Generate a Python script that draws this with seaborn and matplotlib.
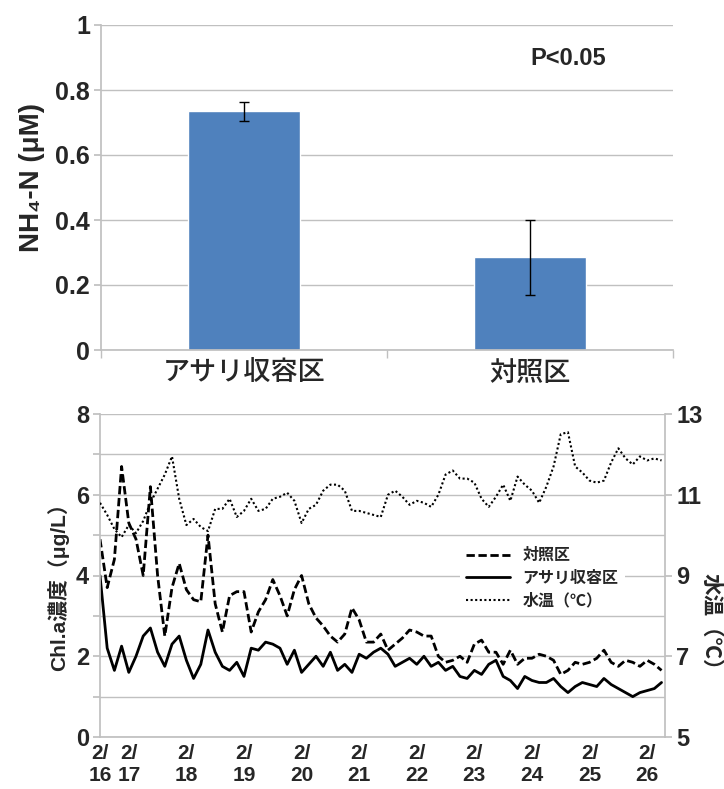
import numpy as np
import pandas as pd
import matplotlib
matplotlib.use("Agg")
import matplotlib.pyplot as plt
import seaborn as sns

# ---------- DATA ----------
# top panel: NH4-N (mean +/- error) per plot
categories = ["アサリ収容区", "対照区"]
nh4_mean = [0.735, 0.285]
nh4_err = [0.029, 0.116]
p_text = "P<0.05"

# bottom panel: 3-hourly readings starting 2/16 12:00
start_day = 16.5
step_day = 0.125
control = [4.9, 3.7, 4.4, 6.7, 5.3, 4.9, 4.0, 6.2, 4.0, 2.5,
           3.7, 4.3, 3.65, 3.4, 3.35, 5.0, 3.3, 2.6, 3.5, 3.6,
           3.6, 2.6, 3.1, 3.4, 3.9, 3.5, 3.0, 3.65, 4.0, 3.3,
           2.95, 2.75, 2.5, 2.35, 2.55, 3.2, 2.9, 2.35, 2.35, 2.55,
           2.15, 2.3, 2.45, 2.65, 2.6, 2.5, 2.5, 2.0, 1.85, 1.9,
           2.0, 1.85, 2.3, 2.4, 2.1, 2.1, 1.8, 2.15, 1.8, 1.95,
           1.95, 2.05, 2.0, 1.9, 1.55, 1.65, 1.85, 1.8, 1.85, 1.95,
           2.15, 1.85, 1.75, 1.9, 1.85, 1.75, 1.9, 1.8, 1.65]
clam = [4.0, 2.2, 1.65, 2.25, 1.6, 2.0, 2.5, 2.7, 2.1, 1.75,
        2.3, 2.5, 1.9, 1.45, 1.8, 2.65, 2.1, 1.75, 1.65, 1.85,
        1.5, 2.2, 2.15, 2.35, 2.3, 2.2, 1.8, 2.15, 1.6, 1.8,
        2.0, 1.75, 2.1, 1.65, 1.8, 1.6, 2.05, 1.95, 2.1, 2.2,
        2.05, 1.75, 1.85, 1.95, 1.8, 2.0, 1.75, 1.85, 1.65, 1.75,
        1.5, 1.45, 1.65, 1.55, 1.8, 1.9, 1.5, 1.4, 1.2, 1.5,
        1.4, 1.35, 1.35, 1.45, 1.25, 1.1, 1.25, 1.35, 1.3, 1.25,
        1.45, 1.3, 1.2, 1.1, 1.0, 1.1, 1.15, 1.2, 1.35]
water_temp = [10.8, 10.5, 10.15, 9.95, 10.25, 10.05, 10.35, 10.8, 11.15, 11.5,
              11.95, 10.9, 10.25, 10.4, 10.2, 10.1, 10.65, 10.65, 10.9, 10.45,
              10.6, 10.9, 10.6, 10.65, 10.9, 10.95, 11.05, 10.85, 10.3, 10.65,
              10.75, 11.1, 11.25, 11.25, 11.1, 10.6, 10.6, 10.55, 10.5, 10.45,
              11.0, 11.1, 10.95, 10.75, 10.85, 10.8, 10.7, 11.0, 11.5, 11.6,
              11.4, 11.4, 11.3, 10.9, 10.7, 10.95, 11.25, 10.85, 11.45, 11.25,
              11.1, 10.8, 11.2, 11.7, 12.5, 12.55, 11.7, 11.55, 11.35, 11.3,
              11.35, 11.8, 12.15, 11.9, 11.75, 11.95, 11.85, 11.9, 11.85]
day_labels = ["2/\n16", "2/\n17", "2/\n18", "2/\n19", "2/\n20", "2/\n21",
              "2/\n22", "2/\n23", "2/\n24", "2/\n25", "2/\n26"]

# ---------- STYLE ----------
sns.set_theme(style="white")
plt.rcParams["font.family"] = ["Liberation Sans", "Noto Sans CJK JP", "DejaVu Sans"]
plt.rcParams["font.weight"] = "bold"
GRID = "#c0c0c0"
BLUE = "#4F81BD"

fig = plt.figure(figsize=(7.24, 7.89), dpi=100)

# ---------- TOP: bar chart ----------
ax1 = fig.add_axes([101 / 724, 1 - 350 / 789, 572 / 724, 325 / 789])
df_top = pd.DataFrame({"plot": categories, "nh4": nh4_mean})
sns.barplot(data=df_top, x="plot", y="nh4", color=BLUE, saturation=1,
            width=0.39, errorbar=None, ax=ax1, zorder=2)
ax1.errorbar(range(len(categories)), nh4_mean, yerr=nh4_err, fmt="none",
             ecolor="black", elinewidth=1, capsize=3.5, capthick=1, zorder=3)
ax1.set_xlim(-0.5, 1.5)
ax1.set_ylim(0, 1)
yt = np.round(np.arange(0, 1.01, 0.2), 1)
ax1.set_yticks(yt, [f"{v:g}" for v in yt])
ax1.yaxis.grid(True, color=GRID, lw=1)
ax1.set_axisbelow(True)
for s in ["top", "right"]:
    ax1.spines[s].set_visible(False)
for s in ["left", "bottom"]:
    ax1.spines[s].set_color(GRID)
ax1.tick_params(axis="y", left=True, length=5, color=GRID, labelsize=18, pad=3)
ax1.tick_params(axis="x", length=0, labelsize=19.5, pad=8)
for lab in ax1.get_xticklabels():
    lab.set_fontweight("medium")
ax1.set_xticks([-0.5, 0.5, 1.5], minor=True)
ax1.tick_params(axis="x", which="minor", bottom=True, length=6, color=GRID)
ax1.set_xlabel("")
ax1.set_ylabel("NH₄-N (μM)", fontsize=20, fontweight="bold")
ax1.yaxis.set_label_coords(-0.098, 0.53)
ax1.text(0.816, 0.897, p_text, transform=ax1.transAxes, ha="center",
         va="center", fontsize=17, fontweight="bold")

# ---------- BOTTOM: time series ----------
days = start_day + step_day * np.arange(len(control))
df = pd.DataFrame({"day": days, "control": control, "clam": clam,
                   "temp": water_temp})

ax = fig.add_axes([100 / 724, 1 - 737 / 789, 565 / 724, 323 / 789])
sns.lineplot(data=df, x="day", y="control", ax=ax, color="black", lw=2,
             linestyle=(0, (3, 1.3)), label="対照区")
sns.lineplot(data=df, x="day", y="clam", ax=ax, color="black", lw=2,
             label="アサリ収容区")
ax2 = ax.twinx()
sns.lineplot(data=df, x="day", y="temp", ax=ax2, color="black", lw=1.5,
             linestyle=(0, (1, 1.2)), label="水温（℃）")
for a in (ax, ax2):
    if a.get_legend() is not None:
        a.get_legend().remove()

ax.set_xlim(16.5, 26.31)
ax.set_ylim(0, 8)
ax2.set_ylim(5, 13)
ax.set_yticks(range(0, 9), [str(v) if v % 2 == 0 else "" for v in range(0, 9)])
ax2.set_yticks(range(5, 14, 2))
ax.set_xticks([start_day] + list(range(17, 27)), day_labels)
ax.yaxis.grid(True, color=GRID, lw=1)
ax2.grid(False)
ax.set_axisbelow(True)
ax.spines["top"].set_visible(False)
ax.spines["right"].set_visible(False)
for s in ["left", "bottom"]:
    ax.spines[s].set_color(GRID)
for s in ["top", "left", "bottom"]:
    ax2.spines[s].set_visible(False)
ax2.spines["right"].set_color(GRID)
ax.tick_params(axis="y", left=True, length=5, color=GRID, labelsize=17, pad=3)
ax2.tick_params(axis="y", right=True, length=5, color=GRID, labelsize=17, pad=3)
ax.tick_params(axis="x", length=0, labelsize=15, pad=5)
for lab in ax.get_xticklabels():
    lab.set_linespacing(1.2)
ax.set_xlabel("")
ax.set_ylabel("Chl.a濃度（μg/L）", fontsize=15, fontweight="bold")
ax.yaxis.set_label_coords(-0.055, 0.48)
ax2.set_ylabel("水温（℃）", fontsize=15.5, fontweight="bold", rotation=270,
               va="center")
ax2.yaxis.set_label_coords(1.08, 0.34)

h1, l1 = ax.get_legend_handles_labels()
h2, l2 = ax2.get_legend_handles_labels()
ax2.legend(h1 + h2, l1 + l2, loc="center", bbox_to_anchor=(0.783, 0.492),
           frameon=True, facecolor="white", edgecolor="none", framealpha=1,
           fontsize=11.5, handlelength=2.7, labelspacing=0.45, borderpad=0.4)

fig.savefig("out.png", dpi=100)
